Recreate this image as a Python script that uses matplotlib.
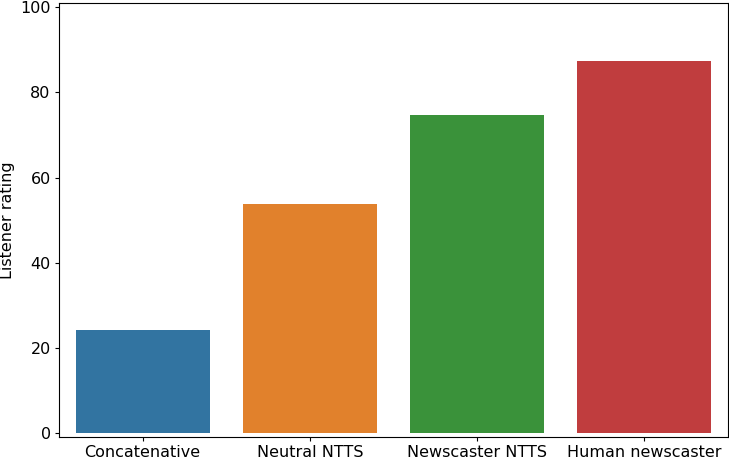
import matplotlib
matplotlib.use("Agg")
import matplotlib.pyplot as plt

categories = ["Concatenative", "Neutral NTTS", "Newscaster NTTS", "Human newscaster"]
ratings = [24.2, 53.7, 74.6, 87.3]
colors = ["#3274a1", "#e1812c", "#3a923a", "#c03d3e"]

fig = plt.figure(figsize=(7.29, 4.57), dpi=100)
W, H = 729, 457
left, right, top, bottom = 59, 728, 2.5, 437
ax = fig.add_axes([left / W, 1 - bottom / H, (right - left) / W, (bottom - top) / H])
ax.bar(range(len(categories)), ratings, width=0.8, color=colors)
ax.set_xlim(-0.5, len(categories) - 0.5)
ax.set_ylim(-0.9, 101.1)
ax.set_xticks(range(len(categories)))
ax.set_xticklabels(categories)
ax.set_yticks([0, 20, 40, 60, 80, 100])
ax.tick_params(labelsize=11.5, length=3, pad=3)
ax.set_ylabel("Listener rating", fontsize=11.5, labelpad=4)
fig.savefig("out.png", dpi=100)
